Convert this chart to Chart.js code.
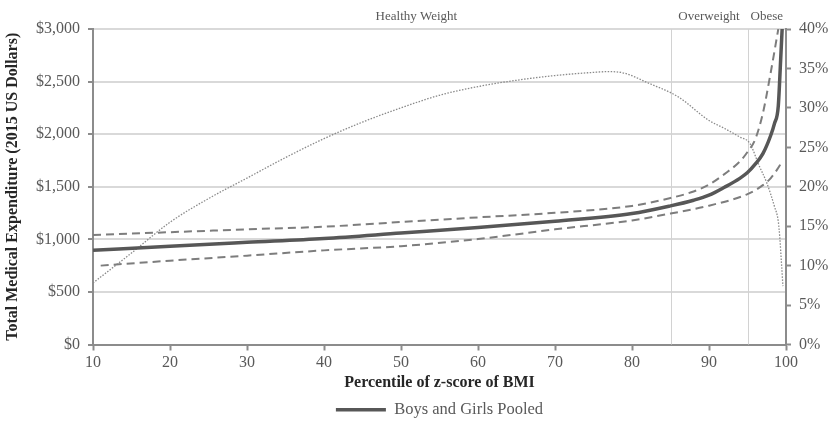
<!DOCTYPE html>
<html>
<head>
<meta charset="utf-8">
<script src="https://cdn.jsdelivr.net/npm/chart.js@4.4.1/dist/chart.umd.min.js"></script>
<style>
html,body{margin:0;padding:0;background:#fff;}
canvas{display:block;}
</style>
</head>
<body>
<canvas id="c" width="830" height="423"></canvas>
<script>
// ---- Data ----
const pooledPct   = [10, 20, 30, 40, 50, 60, 70, 80, 85, 88, 90, 92, 94, 95, 96, 97, 98, 98.5, 99, 99.3, 99.5];
const pooledCost  = [895, 935, 972, 1008, 1060, 1112, 1172, 1245, 1318, 1372, 1420, 1495, 1580, 1635, 1715, 1815, 1985, 2100, 2270, 2700, 3000];

const upperPct    = [10, 20, 30, 40, 50, 60, 70, 80, 85, 88, 90, 92, 94, 95, 96, 97, 98, 99];
const upperCost   = [1041, 1068, 1095, 1120, 1165, 1209, 1252, 1318, 1393, 1455, 1520, 1620, 1740, 1830, 1950, 2200, 2580, 3000];

const lowerPct    = [11, 20, 30, 40, 50, 60, 70, 80, 85, 90, 95, 97, 98, 99, 99.4];
const lowerCost   = [750, 797, 845, 895, 935, 1003, 1095, 1180, 1245, 1320, 1430, 1515, 1580, 1680, 1730];

const distPct     = [10, 15, 20, 25, 30, 35, 40, 45, 50, 55, 60, 65, 70, 75, 77, 79, 82, 86, 90, 92, 94, 95.3, 96.5, 97.5, 98.5, 99, 99.2, 99.4, 99.6];
const distShare   = [7.8, 11.6, 15.5, 18.5, 21.1, 23.7, 26.1, 28.2, 30.0, 31.6, 32.7, 33.5, 34.1, 34.5, 34.6, 34.4, 33.2, 31.4, 28.4, 27.4, 26.3, 25.5, 22.7, 20.5, 17.5, 15.6, 13.5, 10.5, 7.4];

const seriesNames = ['Boys and Girls Pooled', 'Upper bound', 'Lower bound', 'Distribution'];
const zoneCuts    = [85, 95];
const zoneLabels  = ['Healthy Weight', 'Overweight', 'Obese'];
const zoneLabelAt = [52, 90, 97.5];

const leftTicks  = [0, 500, 1000, 1500, 2000, 2500, 3000];
const rightTicks = [0, 5, 10, 15, 20, 25, 30, 35, 40];
const xTicks     = [10, 20, 30, 40, 50, 60, 70, 80, 90, 100];

const pts = (xs, ys) => xs.map((x, i) => ({x: x, y: ys[i]}));

const SERIF = '"Liberation Serif", "Times New Roman", Times, serif';

const zonePlugin = {
  id: 'zones',
  beforeDatasetsDraw(chart) {
    const {ctx, chartArea, scales} = chart;
    ctx.save();
    ctx.strokeStyle = '#d2d2d2';
    ctx.lineWidth = 1;
    zoneCuts.forEach(v => {
      const px = Math.round(scales.x.getPixelForValue(v)) + 0.5;
      ctx.beginPath();
      ctx.moveTo(px, chartArea.top);
      ctx.lineTo(px, chartArea.bottom);
      ctx.stroke();
    });
    ctx.restore();
  },
  afterDraw(chart) {
    const {ctx, chartArea, scales} = chart;
    ctx.save();
    ctx.fillStyle = '#595959';
    ctx.font = '13px ' + SERIF;
    ctx.textAlign = 'center';
    ctx.textBaseline = 'middle';
    zoneLabels.forEach((t, i) => {
      ctx.fillText(t, scales.x.getPixelForValue(zoneLabelAt[i]), chartArea.top - 12);
    });
    ctx.restore();
  }
};

new Chart(document.getElementById('c'), {
  type: 'line',
  data: {
    datasets: [
      {label: seriesNames[0], data: pts(pooledPct, pooledCost), yAxisID: 'y',
       borderColor: '#575757', backgroundColor: '#575757', borderWidth: 3.5,
       pointRadius: 0, cubicInterpolationMode: 'monotone'},
      {label: seriesNames[1], data: pts(upperPct, upperCost), yAxisID: 'y',
       borderColor: '#7d7d7d', borderWidth: 2, borderDash: [8, 5],
       pointRadius: 0, cubicInterpolationMode: 'monotone'},
      {label: seriesNames[2], data: pts(lowerPct, lowerCost), yAxisID: 'y',
       borderColor: '#7d7d7d', borderWidth: 2, borderDash: [8, 5],
       pointRadius: 0, cubicInterpolationMode: 'monotone'},
      {label: seriesNames[3], data: pts(distPct, distShare), yAxisID: 'y1',
       borderColor: '#8a8a8a', borderWidth: 1.3, borderDash: [1.5, 1.5],
       pointRadius: 0, cubicInterpolationMode: 'monotone'}
    ]
  },
  options: {
    responsive: false,
    animation: false,
    devicePixelRatio: 1,
    layout: {padding: {top: 29, bottom: -5, left: 0, right: 0}},
    plugins: {
      tooltip: {enabled: false},
      legend: {
        position: 'bottom',
        fullSize: false,
        labels: {
          filter: item => item.datasetIndex === 0,
          usePointStyle: true,
          pointStyle: 'line',
          pointStyleWidth: 50,
          padding: 4,
          color: '#595959',
          font: {family: SERIF, size: 16.5}
        }
      }
    },
    scales: {
      x: {
        type: 'linear', min: 10, max: 100,
        afterBuildTicks: s => { s.ticks = xTicks.map(v => ({value: v})); },
        afterFit: s => { s.height = 53; },
        grid: {drawOnChartArea: false, drawTicks: true, tickLength: 6, tickColor: '#8c8c8c', tickWidth: 2},
        border: {color: '#8c8c8c', width: 2},
        ticks: {color: '#595959', padding: 3, maxRotation: 0, font: {family: SERIF, size: 16}},
        title: {display: true, text: 'Percentile of z-score of BMI', color: '#262626',
                padding: {top: 0, bottom: 5}, font: {family: SERIF, size: 16, weight: 'bold'}}
      },
      y: {
        position: 'left', min: 0, max: 3000,
        afterBuildTicks: s => { s.ticks = leftTicks.map(v => ({value: v})); },
        afterFit: s => { s.width = 93; },
        grid: {color: '#d9d9d9', lineWidth: 2, tickLength: 5, tickColor: '#8c8c8c', tickWidth: 2},
        border: {color: '#8c8c8c', width: 2},
        ticks: {color: '#595959', padding: 8, font: {family: SERIF, size: 16},
                callback: v => '$' + v.toLocaleString('en-US')},
        title: {display: true, text: 'Total Medical Expenditure (2015 US Dollars)', color: '#262626',
                padding: {top: 3, bottom: 0}, font: {family: SERIF, size: 16, weight: 'bold'}}
      },
      y1: {
        position: 'right', min: 0, max: 40,
        afterBuildTicks: s => { s.ticks = rightTicks.map(v => ({value: v})); },
        afterFit: s => { s.width = 44; },
        grid: {drawOnChartArea: false, tickLength: 5, tickColor: '#8c8c8c', tickWidth: 2},
        border: {color: '#8c8c8c', width: 2},
        ticks: {color: '#595959', padding: 8, font: {family: SERIF, size: 16},
                callback: v => v + '%'}
      }
    }
  },
  plugins: [zonePlugin]
});
</script>
</body>
</html>
